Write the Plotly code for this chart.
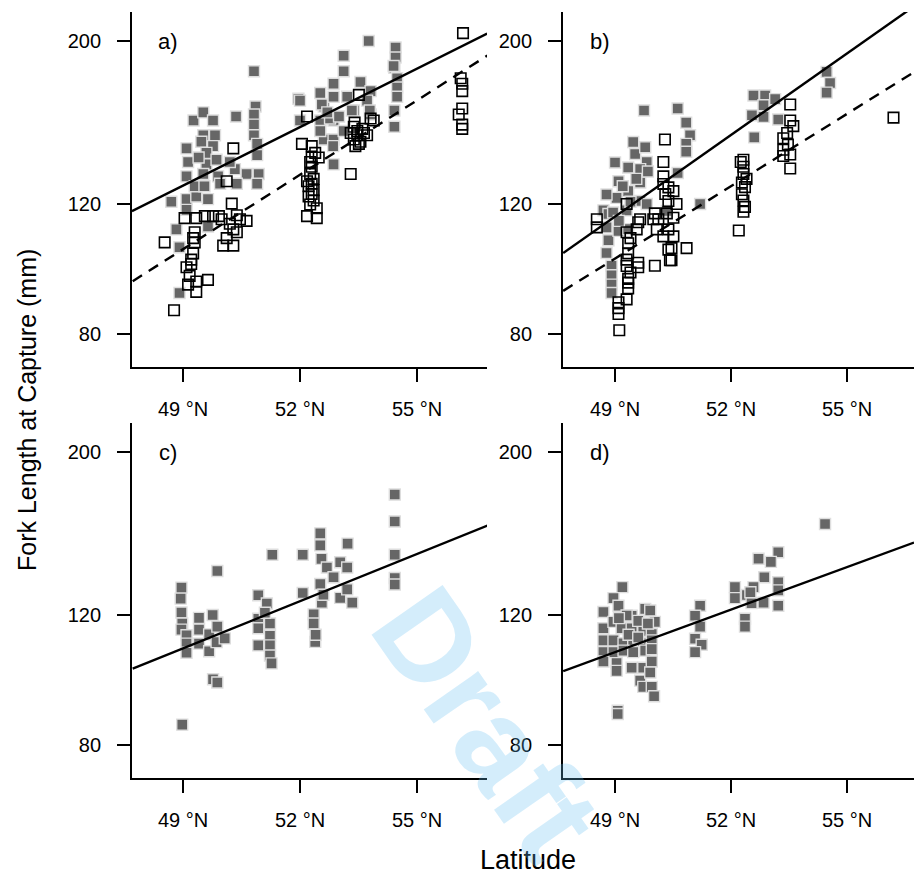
import plotly.graph_objects as go
import math

# ---------------- data ----------------
a_fill_lat = [50.82, 50.36, 49.27, 49.52, 49.77, 49.52, 49.82, 49.09, 49.47, 49.77, 49.60, 49.13, 49.60, 49.86,
              49.09, 49.52, 49.90, 50.33, 50.63, 50.86, 50.82, 50.82, 50.82, 50.90, 50.90, 50.94, 50.90, 50.38,
              49.95, 48.70, 49.09, 49.34, 49.64, 49.09, 48.83, 49.64, 48.91, 48.91, 49.30, 49.55, 50.20, 49.40,
              51.96, 52.52, 52.86, 53.12, 53.12, 53.76, 53.55, 53.81, 52.61, 52.86, 53.21, 53.38, 52.86, 52.52,
              52.61, 52.86, 52.86, 52.52, 53.12, 53.72, 53.81, 52.00, 52.00, 52.56, 52.77, 52.85, 53.33, 53.79,
              52.70, 53.00,
              54.45, 54.45, 54.42, 54.49, 54.49, 54.49, 54.42, 54.42, 54.40]
a_fill_fl = [182, 158, 156, 160, 156, 149, 149, 143, 146, 144, 141, 137, 136, 138,
             131, 132, 131, 134, 132, 163, 159, 154, 149, 145, 140, 132, 128, 128,
             128, 121, 122, 123, 122, 118, 111, 112, 105, 91, 127, 127, 137, 139,
             167, 170, 175, 182, 191, 200, 176, 171, 163, 168, 168, 161, 156, 156,
             147, 147, 136, 151, 151, 166, 159, 166, 156, 164, 157, 144, 161, 161,
             160, 158,
             196, 190, 184, 178, 173, 168, 161, 153, 185]

a_open_lat = [56.18, 56.12, 56.16, 56.16, 56.16, 56.07, 56.16, 56.16,
              53.51, 53.38, 53.47, 53.47, 53.38, 53.51, 53.72, 53.89, 53.81, 53.30, 53.30, 53.60, 53.42, 53.55,
              53.64, 53.40,
              52.05, 52.18, 52.30, 52.30, 52.39, 52.48, 52.30, 52.26, 52.18, 52.22, 52.35, 52.30, 52.35, 52.43,
              52.18, 52.43, 52.22, 52.26, 52.30, 52.26, 52.35,
              50.29, 50.12, 50.25, 49.92, 50.46, 50.63, 50.29, 50.03, 50.29, 50.38, 50.12, 50.20, 50.38,
              49.04, 49.34, 49.56, 49.77, 49.99,
              49.30, 49.30, 49.26, 49.21, 49.09, 49.34, 49.13, 49.64, 49.34, 48.53, 48.77, 49.26, 49.21, 49.17]
a_open_fl = [205, 178, 175, 171, 162, 159, 154, 152,
             169, 153, 151, 149, 147, 145, 149, 156, 157, 132, 150, 152, 144, 146,
             150, 155,
             145, 158, 144, 139, 141, 139, 135, 132, 129, 127, 125.5, 124, 121.5, 118.6,
             115.7, 115, 123, 120, 128, 137, 130,
             143, 129, 120.3, 115.7, 114.6, 114, 111, 105.5, 105.5, 110, 108, 113, 116,
             115, 115, 115.7, 115.7, 114.6,
             110, 106.6, 103, 99.6, 98.6, 94.3, 93.4, 94.8, 91.3, 106.6, 86.2, 108, 101, 96]

b_fill_lat = [49.75, 50.62, 50.84, 50.94, 50.84, 50.84, 50.62,
              49.00, 49.09, 49.34, 49.47, 49.52, 49.78, 49.82, 49.65, 49.65, 49.34, 49.04, 48.78, 48.70, 48.83,
              48.78, 48.83, 48.78, 48.91, 48.91, 48.91, 48.91, 49.09, 49.34, 49.30, 49.65, 49.82, 49.85, 49.20,
              49.55, 48.95, 49.10, 49.40,
              50.34, 51.20,
              52.58, 52.88, 53.14, 52.84, 52.54, 52.84, 53.22, 52.60,
              54.47, 54.56, 54.47]
b_fill_fl = [161, 162, 155, 149, 145, 141.5, 132.4,
             136.8, 129, 134.7, 145.9, 140.5, 143.5, 137, 134, 128.5, 125.1, 122.5, 123.8, 117.8, 116.5,
             111.7, 107.3, 103.1, 99.1, 96.2, 93.4, 91, 110.5, 111.1, 117.8, 121.3, 120.2, 133, 127,
             130, 117, 114, 121,
             117.6, 120.2,
             168.7, 168.7, 166.8, 163.6, 158.6, 157.8, 156.5, 148,
             181.6, 175.4, 170.2]

b_open_lat = [56.20,
              53.53, 53.53, 53.61, 53.35, 53.47, 53.35, 53.53, 53.35, 53.53, 53.45,
              52.32, 52.32, 52.32, 52.28, 52.36, 52.28, 52.32, 52.36, 52.32, 52.20, 52.40, 52.25,
              50.29, 50.25, 50.25, 50.25, 50.38, 50.51, 50.59, 50.38, 50.03, 50.12, 50.51, 50.38, 50.25, 50.51,
              50.38, 50.46, 50.42, 50.85, 50.03, 49.99, 50.08, 50.34, 50.46, 50.30,
              49.60, 49.56, 49.30, 49.34, 49.34, 49.30, 49.34, 49.34, 49.30, 49.60, 49.60, 49.40, 49.30, 49.40,
              49.34,
              49.09, 49.09, 49.09, 49.11,
              48.53, 48.53,
              49.30, 49.65]
b_open_fl = [157.4,
             164, 156, 153.3, 147.6, 144.7, 142.4, 140.3, 139.6, 134.3, 150,
             138, 135, 132, 128.5, 126.7, 123.9, 121.5, 119.1, 117.3, 110.6, 130, 137,
             147, 137, 131, 127.9, 126.6, 125.1, 120.2, 121.3, 116.7, 114.6, 115.1, 111, 108.6, 108.6,
             104.2, 104.7, 100.8, 104.7, 99.1, 114.6, 111, 116.7, 100.8, 124,
             113.5, 111, 110, 106.3, 103, 99, 95.1, 92.3, 89.2, 100, 98.6, 108, 101, 97,
             94,
             88.4, 86.8, 85.2, 81,
             114.6, 111.7,
             120.2, 114.6]

c_fill_lat = [48.96, 48.94, 48.96, 48.98, 48.96, 49.09, 49.09, 49.09, 48.98,
              49.41, 49.41, 49.41, 49.67, 49.67, 49.76, 49.88, 49.88, 49.86, 49.77, 49.88, 50.07,
              50.93, 51.15, 50.93, 50.93, 51.23, 51.23, 50.93, 51.23, 51.23, 51.27, 51.29, 51.10,
              52.07, 52.07, 52.35, 52.35, 52.39, 52.52, 52.52, 52.55, 52.52, 52.56, 52.69, 52.86, 53.03, 53.03,
              53.21, 53.22, 53.21, 53.34, 52.60, 52.40,
              54.43, 54.43, 54.43, 54.43, 54.43]
c_fill_fl = [130.9, 126.5, 121.1, 117, 114.8, 112.8, 109.9, 106.8, 85.3,
             119.1, 114.8, 109.9, 113.1, 107.3, 120.2, 137.9, 115.9, 110.4, 98.3, 97.3, 111.7,
             127.8, 124.6, 118.8, 115.3, 117, 112.6, 109.3, 109.3, 105.9, 103.3, 145.1, 121,
             145.1, 128.7, 120.4, 117, 110.5, 155.1, 149.4, 143.2, 132.4, 124.9, 139.4, 135.2, 141.7, 126.8,
             139.4, 150.2, 130.2, 124.9, 128, 113,
             175.1, 161, 145.1, 134.9, 132.2]

d_fill_lat = [54.43,
              53.22, 52.71, 53.03, 52.86, 53.22, 53.22, 52.10, 52.10, 52.41, 52.58, 52.84, 52.53, 53.22, 52.36,
              52.36, 52.50,
              51.20, 51.07, 51.20, 51.07, 51.24, 51.07,
              49.19, 48.96, 49.09, 48.70, 49.43, 49.78, 49.91, 50.03, 48.70, 48.96, 49.17, 49.43, 49.73, 49.95,
              48.70, 48.96, 49.22, 49.47, 49.73, 49.95, 48.70, 48.96, 49.22, 49.47, 49.78, 49.95, 48.70, 49.04,
              49.43, 49.73, 49.95, 49.04, 49.65, 49.91, 49.73, 49.95, 50.01, 49.07, 49.07, 49.30, 49.60, 49.10,
              49.85, 49.35, 49.60]
d_fill_fl = [159.7,
             146.2, 143.3, 141.9, 135.2, 133.1, 129.8, 131.1, 126.7, 127.9, 131.1, 124.9, 124.7, 123.7, 118.8,
             115.9, 129,
             123.7, 119.9, 115.9, 111.6, 109.5, 107,
             131.1, 126.7, 123.7, 121.3, 119.9, 122.5, 121.9, 117.6, 115.3, 117.6, 115.3, 115.3, 114.3, 113.2,
             111, 111, 110, 111, 110, 111, 107, 107, 107.5, 107, 107.5, 108, 103.9, 103.4,
             101.9, 101.9, 103.9, 100.9, 97.9, 100.4, 96, 96, 93.2, 89.1, 88.2, 120, 118, 119,
             117, 113, 112]

# fitted regression lines (end points)
a_solid_lat, a_solid_fl = [47.69, 56.80], [117.5, 204.7]
a_dash_lat, a_dash_fl = [47.71, 56.81], [94.4, 191.2]
b_solid_lat, b_solid_fl = [47.66, 56.73], [103.1, 222.9]
b_dash_lat, b_dash_fl = [47.66, 56.73], [91.6, 181.5]
c_solid_lat, c_solid_fl = [47.71, 56.84], [101.6, 159.2]
d_solid_lat, d_solid_fl = [47.66, 56.73], [100.8, 150.7]

x_tickvals = [49, 52, 55]
x_ticktext = ['49 °N', '52 °N', '55 °N']
y_tickvals = [80, 120, 200]
panel_labels = ['a)', 'b)', 'c)', 'd)']

# ---------------- styling ----------------
FONT = "Liberation Sans, Arial, sans-serif"
fill_marker = dict(symbol='square', size=11, color='#666666', line=dict(color='#dedede', width=1.4))
open_marker = dict(symbol='square-open', size=10.5, color='black', line=dict(color='black', width=1.6))
solid_line = dict(color='black', width=2.4)
dash_line = dict(color='black', width=2.4, dash='11px,8px')

fig = go.Figure()

def add(axn, x, y, kind):
    xa = 'x' if axn == 1 else f'x{axn}'
    ya = 'y' if axn == 1 else f'y{axn}'
    if kind == 'fill':
        fig.add_trace(go.Scatter(x=x, y=y, mode='markers', marker=fill_marker, xaxis=xa, yaxis=ya, cliponaxis=True))
    elif kind == 'open':
        fig.add_trace(go.Scatter(x=x, y=y, mode='markers', marker=open_marker, xaxis=xa, yaxis=ya, cliponaxis=True))
    elif kind == 'solid':
        fig.add_trace(go.Scatter(x=x, y=y, mode='lines', line=solid_line, xaxis=xa, yaxis=ya))
    else:
        fig.add_trace(go.Scatter(x=x, y=y, mode='lines', line=dash_line, xaxis=xa, yaxis=ya))

add(1, a_fill_lat, a_fill_fl, 'fill')
add(1, a_open_lat, a_open_fl, 'open')
add(1, a_solid_lat, a_solid_fl, 'solid')
add(1, a_dash_lat, a_dash_fl, 'dash')
add(2, b_fill_lat, b_fill_fl, 'fill')
add(2, b_open_lat, b_open_fl, 'open')
add(2, b_solid_lat, b_solid_fl, 'solid')
add(2, b_dash_lat, b_dash_fl, 'dash')
add(3, c_fill_lat, c_fill_fl, 'fill')
add(3, c_solid_lat, c_solid_fl, 'solid')
add(4, d_fill_lat, d_fill_fl, 'fill')
add(4, d_solid_lat, d_solid_fl, 'solid')

W, H = 914, 875
xdom_left = [132 / W, 487 / W]
xdom_right = [563 / W, 1.0]
ydom_top = [1 - 367 / H, 1 - 12 / H]
ydom_bot = [1 - 778 / H, 1 - 423 / H]
xr_left = [47.692, 56.795]
xr_right = [47.655, 56.73]
yr = [math.log10(72.2), math.log10(219.0)]

def xaxis(dom, rng, anchor):
    return dict(domain=dom, range=rng, anchor=anchor, showline=True, linecolor='black', linewidth=1.8,
                ticks='outside', ticklen=13, tickwidth=1.8, tickcolor='black', tickvals=x_tickvals,
                ticktext=x_ticktext, showgrid=False, zeroline=False, ticklabelstandoff=10, automargin=False,
                tickfont=dict(family=FONT, size=20, color='black'))

def yaxis(dom, anchor):
    return dict(domain=dom, range=yr, type='log', anchor=anchor, showline=True, linecolor='black',
                linewidth=1.8, ticks='outside', ticklen=13, tickwidth=1.8, tickcolor='black',
                tickvals=y_tickvals, ticktext=[str(v) for v in y_tickvals], showgrid=False, zeroline=False,
                ticklabelstandoff=12, automargin=False, tickfont=dict(family=FONT, size=20, color='black'))

fig.update_layout(
    width=W, height=H, autosize=False, showlegend=False,
    margin=dict(l=0, r=0, t=0, b=0),
    paper_bgcolor='white', plot_bgcolor='white',
    xaxis=xaxis(xdom_left, xr_left, 'y'), yaxis=yaxis(ydom_top, 'x'),
    xaxis2=xaxis(xdom_right, xr_right, 'y2'), yaxis2=yaxis(ydom_top, 'x2'),
    xaxis3=xaxis(xdom_left, xr_left, 'y3'), yaxis3=yaxis(ydom_bot, 'x3'),
    xaxis4=xaxis(xdom_right, xr_right, 'y4'), yaxis4=yaxis(ydom_bot, 'x4'),
)

annotations = []
for i, lab in enumerate(panel_labels):
    xr_ = 'x' if i == 0 else f'x{i+1}'
    yr_ = 'y' if i == 0 else f'y{i+1}'
    annotations.append(dict(text=lab, x=48.62, y=math.log10(200), xref=xr_, yref=yr_, showarrow=False,
                            font=dict(family=FONT, size=22, color='black'), xanchor='center', yanchor='middle'))
annotations.append(dict(text='Fork Length at Capture (mm)', x=27 / W, y=1 - 410 / H, xref='paper', yref='paper',
                        showarrow=False, textangle=-90, font=dict(family=FONT, size=25, color='black'),
                        xanchor='center', yanchor='middle'))
annotations.append(dict(text='Latitude', x=528 / W, y=1 - 860 / H, xref='paper', yref='paper', showarrow=False,
                        font=dict(family=FONT, size=27, color='black'), xanchor='center', yanchor='middle'))
annotations.append(dict(text='<b>Draft</b>', x=487 / W, y=1 - 723 / H, xref='paper', yref='paper', showarrow=False,
                        textangle=55, font=dict(family=FONT, size=126, color='rgba(100,190,240,0.28)'),
                        xanchor='center', yanchor='middle'))
fig.update_layout(annotations=annotations)

fig.write_html("out.html", config={'displayModeBar': False},
               post_script="document.body.style.margin='0';document.body.style.overflow='hidden';")
